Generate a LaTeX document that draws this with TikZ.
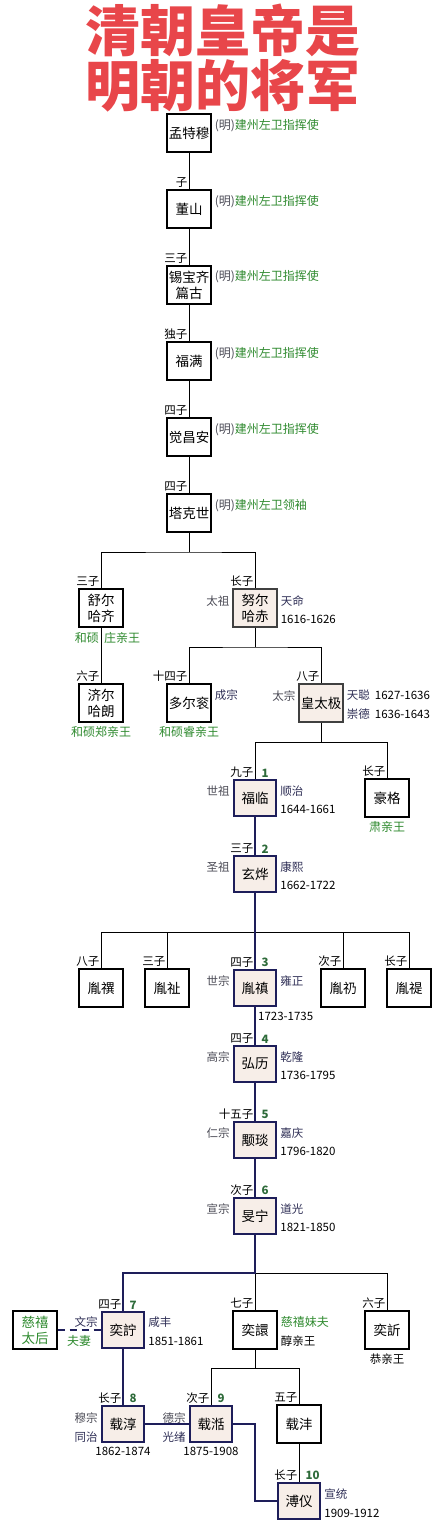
\documentclass[tikz,border=0pt]{standalone}
\usepackage{fontspec}
\setmainfont{Noto Sans CJK SC}
\usetikzlibrary{positioning}

\definecolor{navy}{HTML}{1E1E5A}
\definecolor{beige}{HTML}{F7EEE8}
\definecolor{rankgreen}{HTML}{2F8A2F}
\definecolor{numgreen}{HTML}{2E6B3A}
\definecolor{eraink}{HTML}{2E2E55}
\definecolor{miaoink}{HTML}{4A4A55}
\definecolor{titlered}{HTML}{E8464A}

\begin{document}
\begin{tikzpicture}[x=1pt, y=-1pt,
  every node/.style={font=\fontsize{11.5}{13}\selectfont},
  box/.style={draw, line width=1.1pt, minimum width=44pt, minimum height=38pt,
              inner sep=1pt, align=center, font=\fontsize{13.5}{16}\selectfont},
  khan/.style={box, fill=beige, draw=black!75},
  emp/.style={box, fill=beige, draw=navy, line width=2.4pt,
              minimum width=42pt, minimum height=36pt},
  son/.style={anchor=south east, inner sep=1.5pt},
  num/.style={anchor=south west, inner sep=1.5pt, text=numgreen,
              font=\fontsize{11.5}{13}\selectfont\bfseries},
  rank/.style={anchor=west, inner sep=1pt, text=rankgreen,
               font=\fontsize{12}{13}\selectfont},
  era/.style={anchor=west, inner sep=1pt, text=eraink},
  miao/.style={anchor=east, inner sep=1pt, text=miaoink},
  yrs/.style={anchor=west, inner sep=1pt},
  under/.style={anchor=north, inner sep=1pt},
  link/.style={line width=1pt},
  reign/.style={draw=navy, line width=2.4pt},
  wed/.style={draw=navy, line width=2.2pt, dash pattern=on 7pt off 5pt}
]
\useasboundingbox (0,0) rectangle (442,1540);

\node[text=titlered, align=center, font=\fontsize{55}{55}\selectfont\bfseries]
  (title) at (223,58) {清朝皇帝是\\明朝的将军};

\node[box] (mengtemu)   at (189,133) {孟特穆};
\node[box] (dongshan)   at (189,209) {董山};
\node[box] (xibaoqi)    at (189,285) {锡宝齐\\篇古};
\node[box] (fuman)      at (189,361) {福满};
\node[box] (juechangan) at (189,437) {觉昌安};
\node[box] (takeshi)    at (189,513) {塔克世};

\node[son] (k2) at (dongshan.north)   {子};
\node[son] (k3) at (xibaoqi.north)    {三子};
\node[son] (k4) at (fuman.north)      {独子};
\node[son] (k5) at (juechangan.north) {四子};
\node[son] (k6) at (takeshi.north)    {四子};

\node[rank] (r1) at ([xshift=2pt,yshift=7pt]mengtemu.east)   {\textcolor{miaoink}{(明)}建州左卫指挥使};
\node[rank] (r2) at ([xshift=2pt,yshift=7pt]dongshan.east)   {\textcolor{miaoink}{(明)}建州左卫指挥使};
\node[rank] (r3) at ([xshift=2pt,yshift=8pt]xibaoqi.east)    {\textcolor{miaoink}{(明)}建州左卫指挥使};
\node[rank] (r4) at ([xshift=2pt,yshift=7pt]fuman.east)      {\textcolor{miaoink}{(明)}建州左卫指挥使};
\node[rank] (r5) at ([xshift=2pt,yshift=7pt]juechangan.east) {\textcolor{miaoink}{(明)}建州左卫指挥使};
\node[rank] (r6) at ([xshift=2pt,yshift=7pt]takeshi.east)    {\textcolor{miaoink}{(明)}建州左卫领袖};

\node[box]  (shuerhaqi)  at (101,608) {舒尔\\哈齐};
\node[khan] (nurhachi)   at (255,608) {努尔\\哈赤};
\node[box]  (jierhalang) at (101,703) {济尔\\哈朗};
\node[box]  (duoergun)   at (189,703) {多尔衮};
\node[khan] (huangtaiji) at (321,703) {皇太极};

\node[son] (k7)  at (shuerhaqi.north)  {三子};
\node[son] (k8)  at (nurhachi.north)   {长子};
\node[son] (k9)  at (jierhalang.north) {六子};
\node[son] (k10) at (duoergun.north)   {十四子};
\node[son] (k11) at (huangtaiji.north) {八子};

\node[rank, anchor=north east] (r7) at ([xshift=-1pt,yshift=-4pt]shuerhaqi.south) {和硕};
\node[rank, anchor=north west] (r8) at ([xshift=2pt,yshift=-4pt]shuerhaqi.south) {庄亲王};
\node[miao] (m1) at ([xshift=-2pt,yshift=7pt]nurhachi.west) {太祖};
\node[era]  (e1) at ([xshift=2pt,yshift=7pt]nurhachi.east) {天命};
\node[yrs]  (y1) at ([xshift=2pt,yshift=-11pt]nurhachi.east) {1616-1626};
\node[rank, under] (r9)  at ([yshift=-3pt]jierhalang.south) {和硕郑亲王};
\node[rank, under] (r10) at ([yshift=-3pt]duoergun.south) {和硕睿亲王};
\node[era]  (e2) at ([xshift=2pt,yshift=8pt]duoergun.east) {成宗};
\node[miao] (m2) at ([xshift=-2pt,yshift=7pt]huangtaiji.west) {太宗};
\node[era]  (e3) at ([xshift=2pt,yshift=8pt]huangtaiji.east) {天聪\ \ \textcolor{black}{1627-1636}};
\node[era]  (e4) at ([xshift=2pt,yshift=-11pt]huangtaiji.east) {崇德\ \ \textcolor{black}{1636-1643}};

\node[emp] (fulin)  at (255,798) {福临};
\node[box] (haoge)  at (387,798) {豪格};
\node[emp] (xuanye) at (255,874) {玄烨};

\node[son] (k12) at (fulin.north)  {九子};
\node[num] (n1)  at ([xshift=5pt]fulin.north) {1};
\node[son] (k13) at (haoge.north)  {长子};
\node[son] (k14) at (xuanye.north) {三子};
\node[num] (n2)  at ([xshift=5pt]xuanye.north) {2};

\node[miao] (m3) at ([xshift=-2pt,yshift=7pt]fulin.west) {世祖};
\node[era]  (e5) at ([xshift=2pt,yshift=7pt]fulin.east) {顺治};
\node[yrs]  (y2) at ([xshift=2pt,yshift=-11pt]fulin.east) {1644-1661};
\node[rank, under] (r11) at ([yshift=-3pt]haoge.south) {肃亲王};
\node[miao] (m4) at ([xshift=-2pt,yshift=7pt]xuanye.west) {圣祖};
\node[era]  (e6) at ([xshift=2pt,yshift=7pt]xuanye.east) {康熙};
\node[yrs]  (y3) at ([xshift=2pt,yshift=-11pt]xuanye.east) {1662-1722};

\node[box] (yunsi)   at (101,988) {胤禩};
\node[box] (yunzhi)  at (167,988) {胤祉};
\node[emp] (yinzhen) at (255,988) {胤禛};
\node[box] (yunreng) at (343,988) {胤礽};
\node[box] (yunti)   at (409,988) {胤禔};

\node[son] (k15) at (yunsi.north)   {八子};
\node[son] (k16) at (yunzhi.north)  {三子};
\node[son] (k17) at (yinzhen.north) {四子};
\node[num] (n3)  at ([xshift=5pt]yinzhen.north) {3};
\node[son] (k18) at (yunreng.north) {次子};
\node[son] (k19) at (yunti.north)   {长子};

\node[miao] (m5) at ([xshift=-2pt,yshift=7pt]yinzhen.west) {世宗};
\node[era]  (e7) at ([xshift=2pt,yshift=7pt]yinzhen.east) {雍正};
\node[yrs, anchor=north west] (y4) at ([xshift=2pt,yshift=-4pt]yinzhen.south) {1723-1735};

\node[emp] (hongli)  at (255,1064) {弘历};
\node[emp] (yongyan) at (255,1140) {颙琰};
\node[emp] (minning) at (255,1216) {旻宁};

\node[son] (k20) at (hongli.north)  {四子};
\node[num] (n4)  at ([xshift=5pt]hongli.north) {4};
\node[son] (k21) at (yongyan.north) {十五子};
\node[num] (n5)  at ([xshift=5pt]yongyan.north) {5};
\node[son] (k22) at (minning.north) {次子};
\node[num] (n6)  at ([xshift=5pt]minning.north) {6};

\node[miao] (m6) at ([xshift=-2pt,yshift=7pt]hongli.west) {高宗};
\node[era]  (e8) at ([xshift=2pt,yshift=7pt]hongli.east) {乾隆};
\node[yrs]  (y5) at ([xshift=2pt,yshift=-11pt]hongli.east) {1736-1795};
\node[miao] (m7) at ([xshift=-2pt,yshift=7pt]yongyan.west) {仁宗};
\node[era]  (e9) at ([xshift=2pt,yshift=7pt]yongyan.east) {嘉庆};
\node[yrs]  (y6) at ([xshift=2pt,yshift=-11pt]yongyan.east) {1796-1820};
\node[miao] (m8) at ([xshift=-2pt,yshift=7pt]minning.west) {宣宗};
\node[era]  (e10) at ([xshift=2pt,yshift=7pt]minning.east) {道光};
\node[yrs]  (y7) at ([xshift=2pt,yshift=-11pt]minning.east) {1821-1850};

\node[box, text=rankgreen] (cixi) at (35,1330) {慈禧\\太后};
\node[emp] (yizhu)  at (123,1330) {奕詝};
\node[box] (yixuan) at (255,1330) {奕譞};
\node[box] (yixin)  at (387,1330) {奕訢};

\node[son] (k23) at (yizhu.north)  {四子};
\node[num] (n7)  at ([xshift=5pt]yizhu.north) {7};
\node[son] (k24) at (yixuan.north) {七子};
\node[son] (k25) at (yixin.north)  {六子};

\node[era, anchor=east] (m9) at ([xshift=-2pt,yshift=8pt]yizhu.west) {文宗};
\node[era]  (e11) at ([xshift=2pt,yshift=8pt]yizhu.east) {咸丰};
\node[yrs]  (y8) at ([xshift=2pt,yshift=-11pt]yizhu.east) {1851-1861};
\node[rank] (r12) at ([xshift=2pt,yshift=8pt]yixuan.east) {慈禧妹夫};
\node[yrs]  (r13) at ([xshift=2pt,yshift=-11pt]yixuan.east) {醇亲王};
\node[under] (r14) at ([yshift=-3pt]yixin.south) {恭亲王};

\node[emp] (zaichun) at (123,1424) {载淳};
\node[emp] (zaitian) at (211,1424) {载湉};
\node[box] (zaifeng) at (299,1424) {载沣};
\node[emp] (puyi)    at (299,1501) {溥仪};

\node[son] (k26) at (zaichun.north) {长子};
\node[num] (n8)  at ([xshift=5pt]zaichun.north) {8};
\node[son] (k27) at (zaitian.north) {次子};
\node[num] (n9)  at ([xshift=5pt]zaitian.north) {9};
\node[son] (k28) at (zaifeng.north) {五子};
\node[son] (k29) at (puyi.north)    {长子};
\node[num] (n10) at ([xshift=5pt]puyi.north) {10};

\node[miao] (m10) at ([xshift=-2pt,yshift=6pt]zaichun.west) {穆宗};
\node[era, anchor=east] (e12) at ([xshift=-2pt,yshift=-13pt]zaichun.west) {同治};
\node[under] (y9) at ([yshift=-3pt]zaichun.south) {1862-1874};
\node[miao] (m11) at ([xshift=-2pt,yshift=6pt]zaitian.west) {德宗};
\node[era, anchor=east] (e13) at ([xshift=-2pt,yshift=-13pt]zaitian.west) {光绪};
\node[under] (y10) at ([yshift=-3pt]zaitian.south) {1875-1908};
\node[era]  (e14) at ([xshift=2pt,yshift=7pt]puyi.east) {宣统};
\node[yrs]  (y11) at ([xshift=2pt,yshift=-12pt]puyi.east) {1909-1912};

\coordinate (br1) at (189,552);
\coordinate (br2) at (255,647);
\coordinate (br3) at (321,742);
\coordinate (br4) at (255,932);
\coordinate (br5) at (255,1273);
\coordinate (br6) at (255,1368);
\coordinate (br7) at (255,1424);

\draw[link] (mengtemu) -- (dongshan);
\draw[link] (dongshan) -- (xibaoqi);
\draw[link] (xibaoqi) -- (fuman);
\draw[link] (fuman) -- (juechangan);
\draw[link] (juechangan) -- (takeshi);
\draw[link] (takeshi) -- (br1);
\draw[link] (shuerhaqi.north) |- (br1) -| (nurhachi.north);
\draw[link] (shuerhaqi) -- (jierhalang);
\draw[link] (nurhachi) -- (br2);
\draw[link] (duoergun.north) |- (br2) -| (huangtaiji.north);
\draw[link] (huangtaiji) -- (br3);
\draw[link] (fulin.north) |- (br3) -| (haoge.north);
\draw[link] (yunsi.north) |- (br4) -| (yunti.north);
\draw[link] (yunzhi.north) -- (yunzhi.north |- br4);
\draw[link] (yunreng.north) -- (yunreng.north |- br4);
\draw[link] (br5) -| (yixin.north);
\draw[link] (br5) -- (yixuan.north);
\draw[link] (yixuan) -- (br6);
\draw[link] (zaitian.north) |- (br6) -| (zaifeng.north);
\draw[link] (zaifeng) -- (puyi);

\draw[reign] (fulin) -- (xuanye);
\draw[reign] (xuanye) -- (yinzhen);
\draw[reign] (yinzhen) -- (hongli);
\draw[reign] (hongli) -- (yongyan);
\draw[reign] (yongyan) -- (minning);
\draw[reign] (minning) -- (br5) -| (yizhu.north);
\draw[reign] (yizhu) -- (zaichun);
\draw[reign] (zaichun) -- (zaitian);
\draw[reign] (zaitian.east) -- (br7) |- (puyi.west);
\draw[wed] (cixi) -- node[rank, anchor=north, yshift=-3pt] (fuqi) {夫妻} (yizhu);

\end{tikzpicture}
\end{document}
